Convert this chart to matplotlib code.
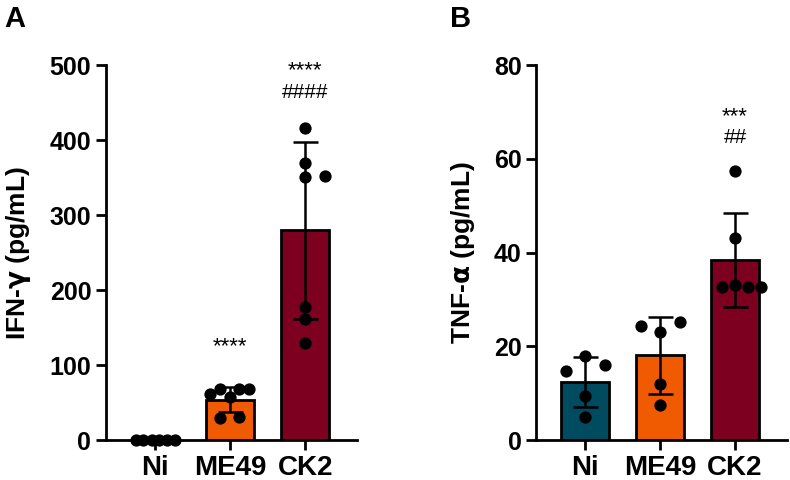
import matplotlib
matplotlib.use('Agg')
import matplotlib.pyplot as plt
import numpy as np

plt.rcParams['font.family'] = ['Liberation Sans', 'DejaVu Sans']
plt.rcParams['font.weight'] = 'bold'
plt.rcParams['mathtext.fontset'] = 'dejavusans'
plt.rcParams['mathtext.default'] = 'rm'

groups = ['Ni', 'ME49', 'CK2']
colors = ['#004b60', '#f05a00', '#7e0020']

# panel A: IFN-gamma (pg/mL)
ifn_mean = [0, 54, 280]
ifn_sd = [0, 17, 118]
ifn_points = [
    [0, 0, 0, 0, 0, 0],
    [61, 67.5, 57, 67.5, 68.5, 29, 31],
    [416, 370, 351, 352, 178, 162, 130],
]
ifn_jitter = [
    [-0.25, -0.15, -0.04, 0.05, 0.16, 0.27],
    [-0.27, -0.13, 0, 0.12, 0.25, -0.13, 0.12],
    [0, 0, 0, 0.27, 0, 0, 0],
]
ifn_stars = ['', '****', '****']
ifn_hash = ['', '', '####']

# panel B: TNF-alpha (pg/mL)
tnf_mean = [12.4, 18.1, 38.4]
tnf_sd = [5.3, 8.2, 10.1]
tnf_points = [
    [14.8, 17.9, 16.0, 9.4, 5.0],
    [24.3, 23.0, 25.1, 11.9, 7.5],
    [57.5, 43.2, 32.7, 33.1, 32.7, 32.7],
]
tnf_jitter = [
    [-0.26, 0, 0.26, 0, 0],
    [-0.26, 0, 0.26, 0, 0],
    [0, 0, -0.17, 0, 0.17, 0.35],
]
tnf_stars = ['', '', '***']
tnf_hash = ['', '', '##']

fig = plt.figure(figsize=(7.9, 4.8), dpi=100)
axA = fig.add_axes([0.134, 0.0833, 0.318, 0.781])
axB = fig.add_axes([0.679, 0.0833, 0.317, 0.781])


def draw(ax, means, sds, points, jitter, stars, hashes, ymax, step, ylabel, fills,
         gap_star, gap_hash, gap_both):
    x = np.arange(len(groups))
    for i in range(len(groups)):
        if means[i] > 0:
            ax.bar(x[i], means[i], width=0.64, color=fills[i], edgecolor='black',
                   linewidth=2, zorder=2)
            ax.errorbar(x[i], means[i], yerr=sds[i], color='black', capsize=9,
                        elinewidth=1.8, capthick=1.8, zorder=3)
        ax.scatter(x[i] + np.array(jitter[i]), points[i], s=78, color='black',
                   zorder=4, clip_on=False, linewidths=0)
        top = max(means[i] + sds[i], max(points[i]))
        if hashes[i]:
            ax.text(x[i], top + gap_hash, hashes[i], ha='center', va='center',
                    fontsize=15, fontweight='normal')
            ax.text(x[i], top + gap_hash + gap_both, stars[i], ha='center',
                    va='center', fontsize=16, fontweight='normal')
        elif stars[i]:
            ax.text(x[i], top + gap_star, stars[i], ha='center', va='center',
                    fontsize=16, fontweight='normal')
    ax.set_xlim(-0.65, 2.69)
    ax.set_ylim(0, ymax)
    ax.set_yticks(np.arange(0, ymax + 1, step))
    ax.set_xticks(x)
    ax.set_xticklabels(groups, fontsize=20, fontweight='bold')
    ax.tick_params(axis='y', labelsize=18, width=2, length=7)
    ax.tick_params(axis='x', width=2, length=7, pad=4)
    for lab in ax.get_yticklabels():
        lab.set_fontweight('bold')
    ax.spines['top'].set_visible(False)
    ax.spines['right'].set_visible(False)
    ax.spines['left'].set_linewidth(2)
    ax.spines['bottom'].set_linewidth(2)
    ax.set_ylabel(ylabel, fontsize=19, fontweight='bold', labelpad=12)


draw(axA, ifn_mean, ifn_sd, ifn_points, ifn_jitter, ifn_stars, ifn_hash,
     500, 100, 'IFN-$\\gamma$ (pg/mL)', colors, 54, 48, 28)
draw(axB, tnf_mean, tnf_sd, tnf_points, tnf_jitter, tnf_stars, tnf_hash,
     80, 20, 'TNF-$\\alpha$ (pg/mL)', colors, 8, 7, 4.6)

fig.text(0.006, 0.99, 'A', fontsize=21, fontweight='bold', va='top')
fig.text(0.57, 0.99, 'B', fontsize=21, fontweight='bold', va='top')

fig.savefig('out.png', dpi=100)
